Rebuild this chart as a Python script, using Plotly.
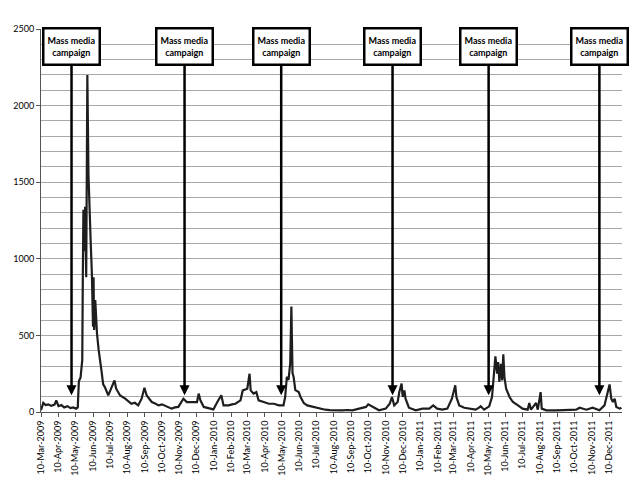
import plotly.graph_objects as go

# daily counts (approximate)
dates = [
    "2009-03-10", "2009-03-14", "2009-03-18", "2009-03-23", "2009-03-28", "2009-04-03", "2009-04-06",
    "2009-04-10", "2009-04-15", "2009-04-20", "2009-04-26", "2009-05-01", "2009-05-06", "2009-05-11",
    "2009-05-14", "2009-05-16", "2009-05-19", "2009-05-22", "2009-05-23", "2009-05-24", "2009-05-26",
    "2009-05-27", "2009-05-29", "2009-05-31", "2009-06-02", "2009-06-04", "2009-06-05", "2009-06-06",
    "2009-06-08", "2009-06-10", "2009-06-11", "2009-06-12", "2009-06-14", "2009-06-17", "2009-06-20",
    "2009-06-23", "2009-06-25", "2009-06-28", "2009-07-01", "2009-07-07", "2009-07-12", "2009-07-18",
    "2009-07-21", "2009-07-28", "2009-08-06", "2009-08-12", "2009-08-17", "2009-08-23", "2009-08-29",
    "2009-09-04", "2009-09-09", "2009-09-13", "2009-09-22", "2009-09-28", "2009-10-04", "2009-10-10",
    "2009-10-15", "2009-10-21", "2009-10-27", "2009-11-02", "2009-11-08", "2009-11-17", "2009-11-23",
    "2009-12-02", "2009-12-11", "2009-12-14", "2009-12-17", "2009-12-23", "2010-01-01", "2010-01-09",
    "2010-01-16", "2010-01-23", "2010-01-27", "2010-02-05", "2010-02-11", "2010-02-17", "2010-02-26",
    "2010-03-02", "2010-03-10", "2010-03-14", "2010-03-16", "2010-03-21", "2010-03-26", "2010-03-30",
    "2010-04-08", "2010-04-17", "2010-04-26", "2010-05-05", "2010-05-13", "2010-05-16", "2010-05-19",
    "2010-05-22", "2010-05-25", "2010-05-27", "2010-05-29", "2010-05-31", "2010-06-03", "2010-06-09",
    "2010-06-12", "2010-06-18", "2010-06-24", "2010-06-30", "2010-07-09", "2010-07-18", "2010-07-26",
    "2010-08-03", "2010-08-10", "2010-08-18", "2010-08-25", "2010-09-03", "2010-09-12", "2010-09-24",
    "2010-10-06", "2010-10-10", "2010-10-17", "2010-10-29", "2010-11-10", "2010-11-17", "2010-11-21",
    "2010-11-25", "2010-12-01", "2010-12-04", "2010-12-08", "2010-12-10", "2010-12-13", "2010-12-15",
    "2010-12-21", "2011-01-02", "2011-01-14", "2011-01-26", "2011-02-02", "2011-02-09", "2011-02-18",
    "2011-02-27", "2011-03-07", "2011-03-13", "2011-03-15", "2011-03-20", "2011-03-29", "2011-04-07",
    "2011-04-18", "2011-04-24", "2011-04-27", "2011-05-03", "2011-05-12", "2011-05-17", "2011-05-20",
    "2011-05-23", "2011-05-26", "2011-05-28", "2011-05-30", "2011-06-02", "2011-06-04", "2011-06-06",
    "2011-06-08", "2011-06-11", "2011-06-17", "2011-06-23", "2011-07-02", "2011-07-10", "2011-07-19",
    "2011-07-22", "2011-07-25", "2011-07-31", "2011-08-03", "2011-08-06", "2011-08-11", "2011-08-13",
    "2011-08-21", "2011-09-08", "2011-09-25", "2011-10-13", "2011-10-19", "2011-10-31", "2011-11-11",
    "2011-11-23", "2011-12-02", "2011-12-07", "2011-12-11", "2011-12-14", "2011-12-17", "2011-12-20",
    "2011-12-23", "2011-12-29", "2012-01-01",
]
counts = [
    12, 60, 45, 50, 40, 48, 75,
    38, 45, 30, 38, 25, 30, 22,
    30, 200, 225, 340, 880, 1320, 1050,
    1340, 880, 2200, 1550, 1250, 1260, 1100,
    905, 557, 880, 535, 730, 515, 405,
    340, 270, 180, 163, 108, 152, 206,
    152, 108, 87, 70, 54, 60, 43,
    87, 158, 108, 65, 55, 43, 50,
    43, 35, 22, 30, 33, 87, 65,
    65, 65, 120, 76, 33, 22, 17,
    65, 109, 43, 43, 50, 54, 76,
    141, 152, 250, 141, 120, 130, 76,
    65, 54, 54, 43, 43, 98, 230,
    209, 320, 688, 254, 228, 143, 130,
    100, 58, 43, 37, 28, 20, 15,
    12, 11, 14, 11, 13, 11, 22,
    33, 50, 37, 11, 22, 54, 98,
    43, 65, 130, 185, 98, 141, 87,
    28, 11, 22, 22, 43, 22, 15,
    22, 87, 174, 98, 43, 28, 22,
    15, 28, 37, 15, 37, 98, 228,
    363, 250, 326, 196, 315, 206, 376,
    228, 152, 98, 65, 43, 22, 15,
    59, 15, 43, 59, 15, 130, 22,
    11, 11, 11, 15, 28, 15, 28,
    11, 43, 120, 180, 87, 65, 87,
    33, 22, 28,
]

# campaign start dates (arrows)
campaign_dates = ["2009-05-03", "2009-11-19", "2010-05-09", "2010-11-22", "2011-05-11", "2011-11-23"]
campaign_label = "<b>Mass media<br>campaign</b>"

fig = go.Figure()
fig.add_trace(go.Scatter(x=dates, y=counts, mode="lines",
                         line=dict(color="#1e1e1e", width=2.2), showlegend=False))

for d in campaign_dates:
    fig.add_annotation(x=d, y=110, ax=d, ay=2385, axref="x", ayref="y",
                       text=campaign_label, showarrow=True, arrowhead=2, arrowsize=0.8,
                       arrowwidth=2.5, arrowcolor="black",
                       font=dict(family="Lato", size=9, color="black"),
                       bgcolor="white", bordercolor="black", borderwidth=2.5, borderpad=2,
                       width=50, height=30, align="center", valign="middle")

fig.update_layout(
    width=640, height=480,
    margin=dict(l=41, r=18, t=29, b=68),
    paper_bgcolor="white", plot_bgcolor="white",
    font=dict(family="Lato", size=9, color="black"),
    showlegend=False,
)
fig.update_xaxes(
    type="date", range=["2009-03-10", "2012-01-02"], automargin=False,
    tick0="2009-03-10", dtick="M1", tickformat="%d-%b-%Y", tickangle=-90,
    showgrid=False, showline=True, linecolor="#555555", linewidth=1,
    ticks="outside", ticklen=4, tickcolor="#555555",
    tickfont=dict(family="Lato", size=9),
)
fig.update_yaxes(
    range=[0, 2500], dtick=500, automargin=False,
    showgrid=True, gridcolor="#a8a8a8", gridwidth=1,
    minor=dict(dtick=100, showgrid=True, gridcolor="#a8a8a8", gridwidth=1),
    showline=True, linecolor="#555555", linewidth=1, zeroline=False,
    ticks="outside", ticklen=4, tickcolor="#555555",
    tickfont=dict(family="Lato", size=9),
)

# drop the default page margin so the figure sits at the window corner
fig.write_html("out.html", config={"displayModeBar": False},
               post_script="document.body.style.margin='0';")
